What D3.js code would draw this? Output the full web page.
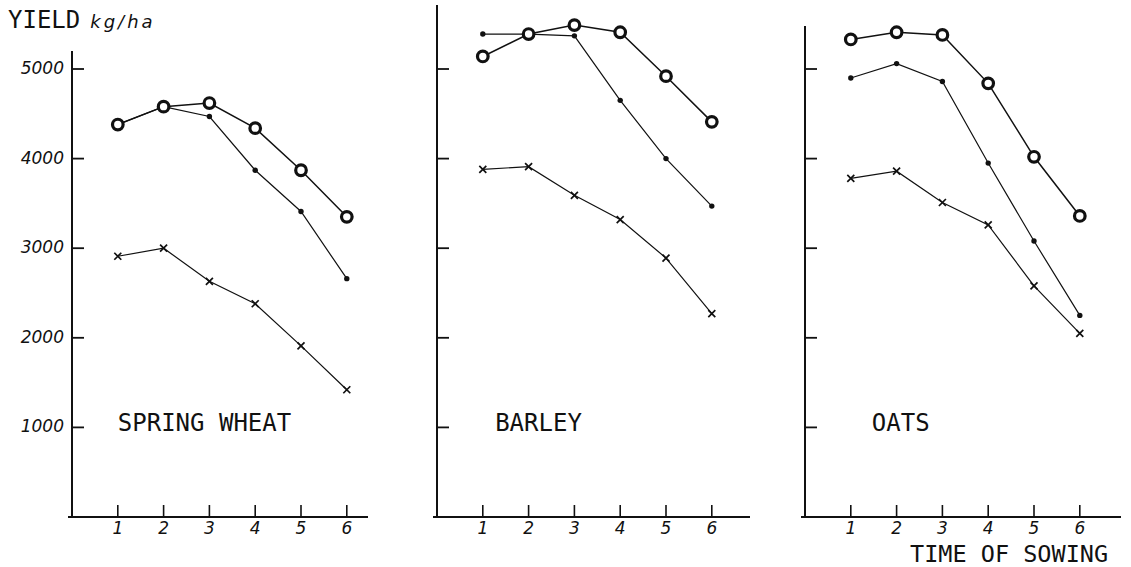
<!DOCTYPE html>
<html>
<head>
<meta charset="utf-8">
<script src="https://cdn.jsdelivr.net/npm/d3@7"></script>
<style>
  html, body { margin: 0; padding: 0; background: #fff; }
  svg { display: block; }
  .lbl { font-family: "DejaVu Sans Mono", monospace; fill: #111; }
  .num { font-family: "DejaVu Sans", sans-serif; font-style: italic; fill: #111; }
</style>
</head>
<body>
<svg id="chart" width="1131" height="567"></svg>
<script>
// Time of sowing (1 = earliest, 6 = latest)
const sowingTimes = [1, 2, 3, 4, 5, 6];
const yTicks = [1000, 2000, 3000, 4000, 5000];
const crops = ["SPRING WHEAT", "BARLEY", "OATS"];

// Yield, kg/ha — three treatments per crop
const wheatCircle = [4380, 4580, 4620, 4340, 3870, 3350];
const wheatDot    = [4380, 4580, 4470, 3870, 3410, 2660];
const wheatCross  = [2910, 3000, 2630, 2380, 1910, 1420];

const barleyCircle = [5140, 5390, 5490, 5410, 4920, 4410];
const barleyDot    = [5390, 5390, 5370, 4650, 4000, 3470];
const barleyCross  = [3880, 3910, 3590, 3320, 2890, 2270];

const oatsCircle = [5330, 5410, 5380, 4840, 4020, 3360];
const oatsDot    = [4900, 5060, 4860, 3950, 3080, 2250];
const oatsCross  = [3780, 3860, 3510, 3260, 2580, 2050];

const panels = [
  { name: crops[0], circle: wheatCircle,  dot: wheatDot,  cross: wheatCross,  x0: 72,  axisTop: 51, axisEnd: 368,  labelAt: 1.0,  tickLabels: true },
  { name: crops[1], circle: barleyCircle, dot: barleyDot, cross: barleyCross, x0: 437, axisTop: 5,  axisEnd: 750,  labelAt: 1.27, tickLabels: false },
  { name: crops[2], circle: oatsCircle,   dot: oatsDot,   cross: oatsCross,   x0: 805, axisTop: 26, axisEnd: 1121, labelAt: 1.46, tickLabels: false }
];

const svg = d3.select("#chart");
const step = 45.8;
const y = d3.scaleLinear().domain([0, 5000]).range([517, 69]);

// Axis title
const yt = svg.append("text").attr("x", 8).attr("y", 28);
yt.append("tspan").attr("class", "lbl").attr("font-size", 24).text("YIELD");
yt.append("tspan").attr("class", "num").attr("font-size", 18)
  .attr("letter-spacing", 3).attr("dx", 10).text("kg/ha");

panels.forEach(p => {
  const x = d3.scaleLinear().domain([0, 1]).range([p.x0, p.x0 + step]);
  const g = svg.append("g");

  // y axis: ticks point inward, labels only on the first panel
  g.append("line")
    .attr("x1", x(0)).attr("x2", x(0))
    .attr("y1", p.axisTop).attr("y2", y(0) + 1)
    .attr("stroke", "#111").attr("stroke-width", 2);
  g.selectAll(".yt").data(yTicks).enter().append("line")
    .attr("x1", x(0)).attr("x2", x(0) + 12)
    .attr("y1", d => y(d)).attr("y2", d => y(d))
    .attr("stroke", "#111").attr("stroke-width", 1.8);
  if (p.tickLabels) {
    g.selectAll(".yl").data(yTicks).enter().append("text")
      .attr("class", "num").attr("font-size", 17)
      .attr("x", x(0) - 8).attr("y", d => y(d) + 5)
      .attr("text-anchor", "end")
      .text(d => d);
  }

  // x axis: ticks point upward
  g.append("line")
    .attr("x1", x(0) - 4).attr("x2", p.axisEnd)
    .attr("y1", y(0)).attr("y2", y(0))
    .attr("stroke", "#111").attr("stroke-width", 2);
  g.selectAll(".xt").data(sowingTimes).enter().append("line")
    .attr("x1", d => x(d)).attr("x2", d => x(d))
    .attr("y1", y(0)).attr("y2", y(0) - 12)
    .attr("stroke", "#111").attr("stroke-width", 1.6);
  g.selectAll(".xl").data(sowingTimes).enter().append("text")
    .attr("class", "num").attr("font-size", 17)
    .attr("x", d => x(d)).attr("y", y(0) + 17)
    .attr("text-anchor", "middle")
    .text(d => d);

  // crop name
  g.append("text").attr("class", "lbl").attr("font-size", 24)
    .attr("x", x(p.labelAt)).attr("y", y(1000) + 4)
    .text(p.name);

  const line = d3.line().x((d, i) => x(sowingTimes[i])).y(d => y(d));

  [p.cross, p.dot, p.circle].forEach((vals, k) => {
    g.append("path").attr("d", line(vals))
      .attr("fill", "none").attr("stroke", "#111")
      .attr("stroke-width", k === 2 ? 1.5 : 1.2);
  });

  // crosses
  g.selectAll(".cx").data(p.cross).enter().append("path")
    .attr("transform", (d, i) => `translate(${x(sowingTimes[i])},${y(d)})`)
    .attr("d", "M-3.5,-3.5L3.5,3.5M-3.5,3.5L3.5,-3.5")
    .attr("stroke", "#111").attr("stroke-width", 1.7);

  // dots
  g.selectAll(".dt").data(p.dot).enter().append("circle")
    .attr("cx", (d, i) => x(sowingTimes[i])).attr("cy", d => y(d))
    .attr("r", 2.7).attr("fill", "#111");

  // open circles
  g.selectAll(".ci").data(p.circle).enter().append("circle")
    .attr("cx", (d, i) => x(sowingTimes[i])).attr("cy", d => y(d))
    .attr("r", 5.3).attr("fill", "#fff")
    .attr("stroke", "#111").attr("stroke-width", 3.2);
});

// x axis title
svg.append("text").attr("class", "lbl").attr("font-size", 23.5)
  .attr("x", 910).attr("y", 562)
  .text("TIME OF SOWING");
</script>
</body>
</html>
